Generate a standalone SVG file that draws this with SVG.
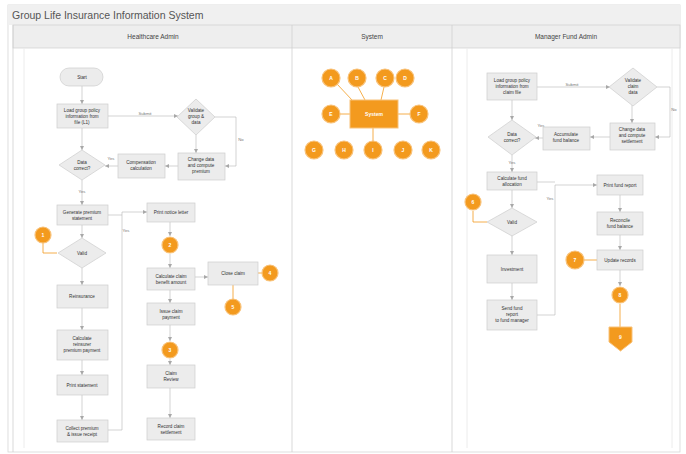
<svg xmlns="http://www.w3.org/2000/svg" width="686" height="454" viewBox="0 0 686 454">
<style>
.t{font-family:"Liberation Sans",Arial,sans-serif;font-size:4.6px;fill:#333;text-anchor:middle}
.lbl{font-family:"Liberation Sans",Arial,sans-serif;font-size:4.2px;fill:#777;text-anchor:middle}
.hd{font-family:"Liberation Sans",Arial,sans-serif;font-size:6.5px;fill:#444;text-anchor:middle}
.box{fill:#ececec;stroke:#cdcdcd;stroke-width:0.7}
.oc{fill:#f39a1e;stroke:#f8c27a;stroke-width:1.2}
.ot{font-family:"Liberation Sans",Arial,sans-serif;font-size:5px;fill:#fff;text-anchor:middle;font-weight:bold}
.e{stroke:#b5b5b5;stroke-width:0.6;fill:none;marker-end:url(#ar)}
.n{stroke:#b5b5b5;stroke-width:0.6;fill:none}
.oe{stroke:#f39a1e;stroke-width:0.8;fill:none}
</style>
<defs>
<marker id="ar" markerWidth="5" markerHeight="5" refX="4" refY="2.5" orient="auto" markerUnits="userSpaceOnUse">
<path d="M0,0.5 L4,2.5 L0,4.5 z" fill="#a8a8a8"/>
</marker>
</defs>
<rect x="0" y="0" width="686" height="454" fill="#fff"/>
<g id="frame">
<rect x="8" y="5" width="672" height="447" fill="#fff" stroke="#d6d6d6" stroke-width="0.8"/>
<rect x="8" y="5" width="672" height="20" fill="#f0f0f0"/>
<text x="12" y="19" font-family="Liberation Sans, Arial, sans-serif" font-size="10.5" fill="#555">Group Life Insurance Information System</text>
<rect x="13" y="25" width="667" height="23" fill="#eeeeee" stroke="#cfcfcf" stroke-width="0.7"/>
<line x1="13" y1="25" x2="13" y2="452" stroke="#cfcfcf" stroke-width="0.8"/>
<line x1="292" y1="25" x2="292" y2="452" stroke="#cfcfcf" stroke-width="0.8"/>
<line x1="452" y1="25" x2="452" y2="452" stroke="#cfcfcf" stroke-width="0.8"/>
<line x1="24" y1="48" x2="24" y2="448" stroke="#ececec" stroke-width="1"/>
<line x1="467" y1="48" x2="467" y2="448" stroke="#ececec" stroke-width="1"/>
<line x1="672" y1="48" x2="672" y2="448" stroke="#ececec" stroke-width="1"/>
<text class="hd" x="153" y="39">Healthcare Admin</text>
<text class="hd" x="372" y="39">System</text>
<text class="hd" x="566" y="39">Manager Fund Admin</text>
</g>
<g id="connectors">
<!-- lane 1 -->
<path class="e" d="M82,86 V104"/>
<path class="e" d="M108,116 H178"/>
<text class="lbl" x="145" y="115">Submit</text>
<path class="e" d="M215,117 H236 V166 H225"/>
<text class="lbl" x="241" y="141">No</text>
<path class="e" d="M196,135 V153"/>
<path class="e" d="M178,166 H165"/>
<path class="e" d="M118,166 H105"/>
<text class="lbl" x="111" y="160">Yes</text>
<path class="e" d="M82,128 V150"/>
<path class="e" d="M82,180 V205"/>
<text class="lbl" x="82" y="193">Yes</text>
<path class="e" d="M82,225 V238"/>
<path class="e" d="M82,268 V285"/>
<path class="e" d="M82,308 V330"/>
<path class="e" d="M82,360 V375"/>
<path class="e" d="M82,395 V420"/>
<path class="n" d="M108,215 H122"/>
<path class="e" d="M108,430 H122 V212 H147"/>
<text class="lbl" x="126" y="232">Yes</text>
<path class="e" d="M170,222 V236"/>
<path class="e" d="M170,254 V268"/>
<path class="e" d="M170,290 V303"/>
<path class="e" d="M170,325 V341"/>
<path class="e" d="M170,359 V365"/>
<path class="e" d="M170,388 V418"/>
<path class="e" d="M195,277 H208"/>
<path class="oe" d="M258,273 H262"/>
<path class="oe" d="M233,285 V299"/>
<path class="oe" d="M43,243 V253 H57"/>
<!-- system -->
<path class="oe" d="M337,84 L352,100"/>
<path class="oe" d="M358,87 L365,100"/>
<path class="oe" d="M384,87 L381,100"/>
<path class="oe" d="M340,114 H350"/>
<path class="oe" d="M398,114 H410"/>
<path class="oe" d="M373,128 V141"/>
<!-- lane 3 -->
<path class="e" d="M537,87 H610"/>
<text class="lbl" x="572" y="86">Submit</text>
<path class="e" d="M657,87 H670 V137 H655"/>
<text class="lbl" x="674" y="111">No</text>
<path class="e" d="M632,105 V123"/>
<path class="e" d="M610,137 H590"/>
<path class="e" d="M543,138 H535"/>
<text class="lbl" x="541" y="127">Yes</text>
<path class="e" d="M512,100 V120"/>
<path class="e" d="M512,155 V172"/>
<text class="lbl" x="512" y="164">Yes</text>
<path class="e" d="M512,190 V208"/>
<path class="e" d="M512,235 V255"/>
<path class="e" d="M512,283 V300"/>
<path class="n" d="M537,182 H555"/>
<path class="e" d="M537,315 H555 V185 H597"/>
<text class="lbl" x="550" y="200">Yes</text>
<path class="e" d="M620,195 V212"/>
<path class="e" d="M620,235 V250"/>
<path class="e" d="M620,270 V286"/>
<path class="oe" d="M620,304 V327"/>
<path class="oe" d="M584,260 H597"/>
<path class="oe" d="M473,211 V222 H487"/>
</g>
<!-- lane 1 nodes -->
<g id="start"><rect class="box" x="60" y="68" width="43" height="18" rx="9"/><text class="t" x="82" y="79">Start</text></g>
<g id="load1"><rect class="box" x="57" y="104" width="51" height="24"/><text class="t" x="82" y="112">Load group policy</text><text class="t" x="82" y="118">information from</text><text class="t" x="82" y="124">file (L1)</text></g>
<g id="validate1"><polygon class="box" points="196,99 215,117 196,135 177,117"/><text class="t" x="196" y="112">Validate</text><text class="t" x="196" y="118">group &amp;</text><text class="t" x="196" y="124">data</text></g>
<g id="change1"><rect class="box" x="178" y="153" width="47" height="27"/><text class="t" x="201" y="161">Change data</text><text class="t" x="201" y="167">and compute</text><text class="t" x="201" y="173">premium</text></g>
<g id="comp1"><rect class="box" x="118" y="154" width="47" height="24"/><text class="t" x="141" y="164">Compensation</text><text class="t" x="141" y="170">calculation</text></g>
<g id="correct1"><polygon class="box" points="82,150 105,165 82,180 59,165"/><text class="t" x="82" y="164">Data</text><text class="t" x="82" y="170">correct?</text></g>
<g id="gen1"><rect class="box" x="57" y="205" width="51" height="20"/><text class="t" x="82" y="214">Generate premium</text><text class="t" x="82" y="220">statement</text></g>
<g id="c1"><circle class="oc" cx="43" cy="235" r="8"/><text class="ot" x="43" y="237">1</text></g>
<g id="valid1"><polygon class="box" points="82,238 106,253 82,268 58,253"/><text class="t" x="82" y="255">Valid</text></g>
<g id="reins"><rect class="box" x="57" y="285" width="51" height="23"/><text class="t" x="82" y="298">Reinsurance</text></g>
<g id="calc1"><rect class="box" x="57" y="330" width="51" height="30"/><text class="t" x="82" y="340">Calculate</text><text class="t" x="82" y="346">reinsurer</text><text class="t" x="82" y="352">premium payment</text></g>
<g id="print1"><rect class="box" x="57" y="375" width="51" height="20"/><text class="t" x="82" y="387">Print statement</text></g>
<g id="collect1"><rect class="box" x="57" y="420" width="51" height="22"/><text class="t" x="82" y="430">Collect premium</text><text class="t" x="82" y="436">&amp; issue receipt</text></g>
<g id="notice1"><rect class="box" x="147" y="203" width="48" height="19"/><text class="t" x="171" y="214">Print notice letter</text></g>
<g id="c2"><circle class="oc" cx="170" cy="245" r="8"/><text class="ot" x="170" y="247">2</text></g>
<g id="claimcalc"><rect class="box" x="147" y="268" width="48" height="22"/><text class="t" x="171" y="278">Calculate claim</text><text class="t" x="171" y="284">benefit amount</text></g>
<g id="claimpay"><rect class="box" x="147" y="303" width="48" height="22"/><text class="t" x="171" y="313">Issue claim</text><text class="t" x="171" y="319">payment</text></g>
<g id="c3"><circle class="oc" cx="170" cy="350" r="8"/><text class="ot" x="170" y="352">3</text></g>
<g id="review"><rect class="box" x="147" y="365" width="48" height="23"/><text class="t" x="171" y="375">Claim</text><text class="t" x="171" y="381">Review</text></g>
<g id="record"><rect class="box" x="147" y="418" width="48" height="22"/><text class="t" x="171" y="428">Record claim</text><text class="t" x="171" y="434">settlement</text></g>
<g id="close1"><rect class="box" x="208" y="262" width="50" height="23"/><text class="t" x="233" y="275">Close claim</text></g>
<g id="c4"><circle class="oc" cx="270" cy="273" r="8"/><text class="ot" x="270" y="275">4</text></g>
<g id="c5"><circle class="oc" cx="233" cy="307" r="8"/><text class="ot" x="233" y="309">5</text></g>
<!-- system lane -->
<g id="system"><rect x="350" y="100" width="48" height="28" fill="#f39a1e" stroke="#f8c27a" stroke-width="1"/><text class="ot" x="374" y="116">System</text></g>
<g id="s1"><circle class="oc" cx="331" cy="78" r="9"/><text class="ot" x="331" y="80">A</text></g>
<g id="s2"><circle class="oc" cx="357" cy="78" r="9"/><text class="ot" x="357" y="80">B</text></g>
<g id="s3"><circle class="oc" cx="385" cy="78" r="9"/><text class="ot" x="385" y="80">C</text></g>
<g id="s4"><circle class="oc" cx="405" cy="78" r="9"/><text class="ot" x="405" y="80">D</text></g>
<g id="s5"><circle class="oc" cx="331" cy="114" r="9"/><text class="ot" x="331" y="116">E</text></g>
<g id="s6"><circle class="oc" cx="419" cy="114" r="9"/><text class="ot" x="419" y="116">F</text></g>
<g id="s7"><circle class="oc" cx="314" cy="150" r="9"/><text class="ot" x="314" y="152">G</text></g>
<g id="s8"><circle class="oc" cx="344" cy="150" r="9"/><text class="ot" x="344" y="152">H</text></g>
<g id="s9"><circle class="oc" cx="373" cy="150" r="9"/><text class="ot" x="373" y="152">I</text></g>
<g id="s10"><circle class="oc" cx="403" cy="150" r="9"/><text class="ot" x="403" y="152">J</text></g>
<g id="s11"><circle class="oc" cx="431" cy="150" r="9"/><text class="ot" x="431" y="152">K</text></g>
<!-- lane 3 nodes -->
<g id="load3"><rect class="box" x="487" y="73" width="50" height="27"/><text class="t" x="512" y="82">Load group policy</text><text class="t" x="512" y="88">information from</text><text class="t" x="512" y="94">claim file</text></g>
<g id="validate3"><polygon class="box" points="633,68 657,87 633,106 609,87"/><text class="t" x="633" y="82">Validate</text><text class="t" x="633" y="88">claim</text><text class="t" x="633" y="94">data</text></g>
<g id="change3"><rect class="box" x="610" y="123" width="45" height="27"/><text class="t" x="632" y="131">Change data</text><text class="t" x="632" y="137">and compute</text><text class="t" x="632" y="143">settlement</text></g>
<g id="accum3"><rect class="box" x="543" y="127" width="47" height="23"/><text class="t" x="566" y="136">Accumulate</text><text class="t" x="566" y="142">fund balance</text></g>
<g id="correct3"><polygon class="box" points="512,120 536,137 512,155 488,137"/><text class="t" x="512" y="136">Data</text><text class="t" x="512" y="142">correct?</text></g>
<g id="alloc3"><rect class="box" x="487" y="172" width="50" height="18"/><text class="t" x="512" y="180">Calculate fund</text><text class="t" x="512" y="186">allocation</text></g>
<g id="c6"><circle class="oc" cx="473" cy="202" r="8"/><text class="ot" x="473" y="204">6</text></g>
<g id="valid3"><polygon class="box" points="512,208 537,222 512,236 487,222"/><text class="t" x="512" y="224">Valid</text></g>
<g id="invest3"><rect class="box" x="487" y="255" width="50" height="28"/><text class="t" x="512" y="271">Investment</text></g>
<g id="send3"><rect class="box" x="487" y="300" width="50" height="30"/><text class="t" x="512" y="310">Send fund</text><text class="t" x="512" y="316">report</text><text class="t" x="512" y="322">to fund manager</text></g>
<g id="report3"><rect class="box" x="597" y="175" width="46" height="20"/><text class="t" x="620" y="187">Print fund report</text></g>
<g id="recon3"><rect class="box" x="597" y="212" width="46" height="23"/><text class="t" x="620" y="222">Reconcile</text><text class="t" x="620" y="228">fund balance</text></g>
<g id="update3"><rect class="box" x="597" y="250" width="46" height="20"/><text class="t" x="620" y="262">Update records</text></g>
<g id="c7"><circle class="oc" cx="575" cy="260" r="9"/><text class="ot" x="575" y="262">7</text></g>
<g id="c8"><circle class="oc" cx="620" cy="295" r="8"/><text class="ot" x="620" y="297">8</text></g>
<g id="end3"><polygon points="609,327 632,327 632,342 620.5,351 609,342" fill="#f39a1e" stroke="#f8c27a" stroke-width="1"/><text class="ot" x="620.5" y="339">9</text></g>
</svg>
